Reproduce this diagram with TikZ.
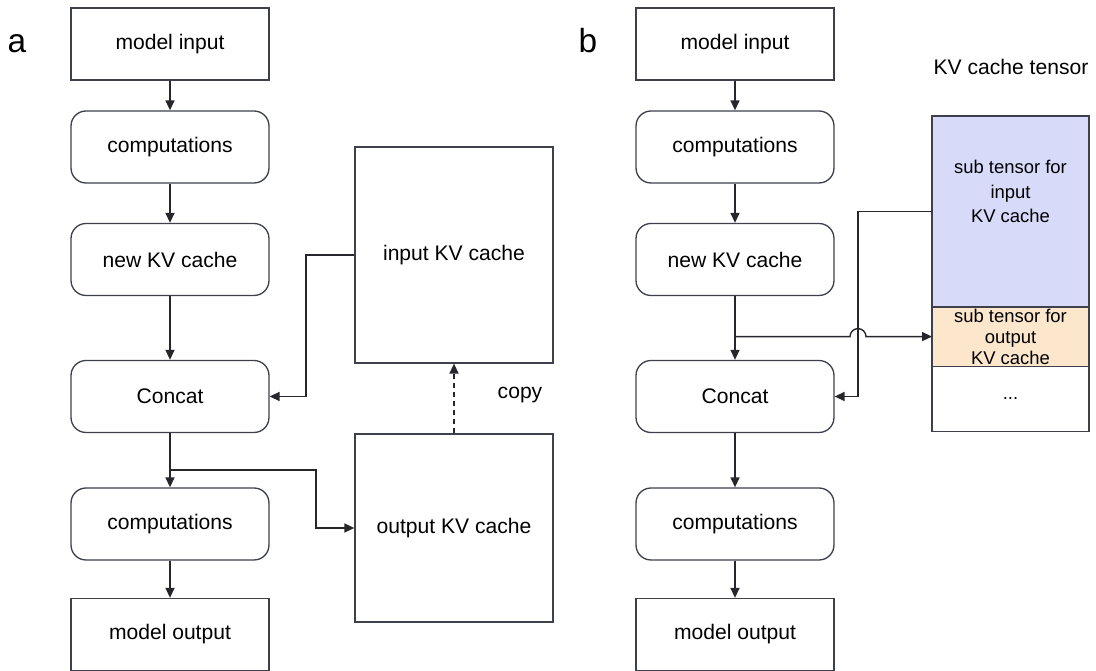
\documentclass[tikz,border=0pt]{standalone}
\usepackage{fontspec}
\setmainfont{Liberation Sans}
\usetikzlibrary{arrows.meta,positioning,calc}
\definecolor{linegray}{RGB}{62,64,76}
\definecolor{arrowgray}{RGB}{38,38,44}
\definecolor{subblue}{RGB}{216,218,250}
\definecolor{suborange}{RGB}{252,230,204}

\begin{document}
\begin{tikzpicture}[
  x=0.02cm, y=-0.02cm,
  iobox/.style={rectangle, draw=linegray, line width=0.75pt,
    minimum width=3.96cm, minimum height=1.44cm, align=center,
    font=\fontsize{12}{14}\selectfont},
  compbox/.style={iobox, rounded corners=0.3cm},
  cachebox/.style={rectangle, draw=linegray, line width=0.75pt,
    minimum width=3.96cm, align=center, font=\fontsize{12}{14}\selectfont},
  subt/.style={rectangle, draw=linegray, line width=0.75pt, outer sep=0pt,
    minimum width=3.14cm, inner sep=1pt, align=center,
    font=\fontsize{10.5}{12}\selectfont},
  panel/.style={font=\fontsize{19}{22}\selectfont, anchor=base},
  arrow/.style={-{Triangle[length=2mm, width=1.8mm]}, line width=0.8pt, draw=arrowgray}
]
\useasboundingbox (0,0) rectangle (1096,671);

% Panel a
\node[panel] (labA) at (17,53) {a};
\node[iobox] (inA) at (170,44) {model input};
\node[compbox] (compA) at (170,147) {computations};
\node[compbox] (newA) at (170,259.5) {new KV cache};
\node[compbox] (concatA) at (170,396.5) {Concat};
\node[compbox] (comp2A) at (170,524) {computations};
\node[iobox] (outA) at (170,634.5) {model output};

\node[cachebox, minimum height=4.32cm] (ikv) at (454,255) {input KV cache};
\node[cachebox, minimum height=3.76cm] (okv) at (454,528) {output KV cache};
\node[font=\fontsize{12}{14}\selectfont, anchor=base] (copy) at (520,399) {copy};

% Arrows a
\draw[arrow] (inA) -- (compA);
\draw[arrow] (compA) -- (newA);
\draw[arrow] (newA) -- (concatA);
\draw[arrow] (concatA) -- (comp2A);
\draw[arrow] (comp2A) -- (outA);
\draw[arrow, dash pattern=on 1mm off 0.8mm] (okv.north) -- (ikv.south);

\coordinate (bendA) at (306,0);
\draw[arrow] (ikv.west) -- (ikv.west -| bendA) |- (concatA.east);
\coordinate (brA) at (170,470);
\coordinate (bendA2) at (316,470);
\draw[arrow] (brA) -- (bendA2) |- (okv.west);

% Panel b
\node[panel] (labB) at (588,53) {b};
\node[iobox] (inB) at (735,44) {model input};
\node[compbox] (compB) at (735,147) {computations};
\node[compbox] (newB) at (735,259.5) {new KV cache};
\node[compbox] (concatB) at (735,396.5) {Concat};
\node[compbox] (comp2B) at (735,524) {computations};
\node[iobox] (outB) at (735,634.5) {model output};

% KV cache tensor
\node[font=\fontsize{12}{14}\selectfont, anchor=base] (tlabel) at (1011,75) {KV cache tensor};
\node[subt, fill=subblue, minimum height=3.82cm] (tin) at (1010.5,211.5) {};
\node[subt, fill=suborange, minimum height=1.16cm, below=0pt of tin] (tout)
  {sub tensor for\\output\\KV cache};
\node[subt, minimum height=1.3cm, below=0pt of tout] (trest) {...};
\node[align=center, font=\fontsize{10.5}{14}\selectfont] (tinlbl)
  at ([yshift=0.4cm]tin.center) {sub tensor for\\input\\KV cache};

% Arrows b
\draw[arrow] (inB) -- (compB);
\draw[arrow] (compB) -- (newB);
\draw[arrow] (newB) -- (concatB);
\draw[arrow] (concatB) -- (comp2B);
\draw[arrow] (comp2B) -- (outB);

\coordinate (hopB) at (858,0);
\draw[arrow] (tin.west) -- (tin.west -| hopB) |- (concatB.east);
\coordinate (brB) at (newB.south |- tout.west);
\draw[arrow] (brB) -- ([xshift=-0.16cm]hopB |- brB)
  arc[start angle=180, end angle=0, radius=0.16cm] -- (tout.west);
\end{tikzpicture}
\end{document}
